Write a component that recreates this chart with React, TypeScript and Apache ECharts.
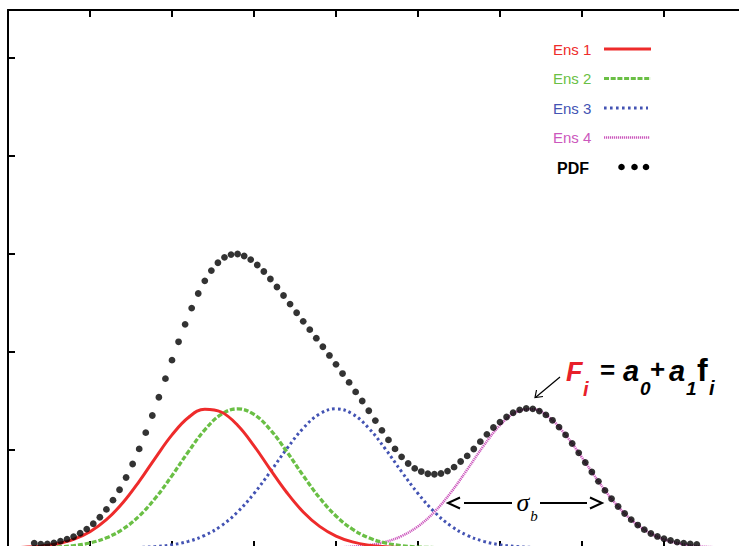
import React, { useEffect, useRef } from "react";
import * as echarts from "echarts";

// ---------- data ----------
const legendLabels = ["Ens 1", "Ens 2", "Ens 3", "Ens 4", "PDF"];

const ensX = [0, 0.2, 0.4, 0.6, 0.8, 1, 1.2, 1.4, 1.6, 1.8, 2, 2.2, 2.4, 2.6, 2.8, 3, 3.2, 3.4, 3.6, 3.8, 4, 4.2, 4.4, 4.6, 4.8, 5, 5.2, 5.4, 5.6, 5.8, 6, 6.2, 6.4, 6.6, 6.8, 7, 7.2, 7.4, 7.6, 7.8, 8, 8.2, 8.4, 8.6, 8.8, 9];

const ens1 = [0.003, 0.008, 0.019, 0.043, 0.088, 0.166, 0.289, 0.461, 0.68, 0.923, 1.154, 1.332, 1.416, 1.388, 1.253, 1.043, 0.8, 0.566, 0.368, 0.221, 0.122, 0.062, 0.029, 0.013, 0.005, 0.002,
  0, 0, 0, 0, 0, 0, 0, 0, 0, 0, 0, 0, 0, 0, 0, 0, 0, 0, 0, 0];

const ens2 = [0.001, 0.001, 0.004, 0.01, 0.024, 0.052, 0.104, 0.192, 0.327, 0.512, 0.739, 0.983, 1.206, 1.363, 1.42, 1.363, 1.206, 0.983, 0.739, 0.512, 0.327, 0.192, 0.104, 0.052, 0.024, 0.01, 0.004, 0.001,
  0, 0, 0, 0, 0, 0, 0, 0, 0, 0, 0, 0, 0, 0, 0, 0, 0, 0];

const ens3 = [0, 0, 0, 0, 0, 0,
  0.001, 0.0025, 0.006, 0.015, 0.033, 0.068, 0.129, 0.226, 0.368, 0.556, 0.779, 1.013, 1.222, 1.368, 1.42, 1.368, 1.222, 1.013, 0.779, 0.556, 0.368, 0.226, 0.129, 0.068, 0.033, 0.015, 0.006, 0.0025, 0.001,
  0, 0, 0, 0, 0, 0, 0, 0, 0, 0, 0];

const ens4 = [0, 0, 0, 0, 0, 0, 0, 0, 0, 0, 0, 0, 0, 0, 0, 0, 0, 0, 0,
  0.002, 0.005, 0.013, 0.029, 0.062, 0.122, 0.221, 0.368, 0.566, 0.8, 1.043, 1.253, 1.388, 1.416, 1.332, 1.154, 0.923, 0.68, 0.461, 0.289, 0.166, 0.088, 0.043, 0.019, 0.008, 0.003, 0.001];

const pdfX = [0.32, 0.4, 0.48, 0.56, 0.64, 0.72, 0.8, 0.88, 0.96, 1.04, 1.12, 1.2, 1.28, 1.36, 1.44, 1.52, 1.6, 1.68, 1.76, 1.84, 1.92, 2, 2.08, 2.16, 2.24, 2.32, 2.4, 2.48, 2.56, 2.64, 2.72, 2.8, 2.88, 2.96, 3.04, 3.12, 3.2, 3.28, 3.36, 3.44, 3.52, 3.6, 3.68, 3.76, 3.84, 3.92, 4, 4.08, 4.16, 4.24, 4.32, 4.4, 4.48, 4.56, 4.64, 4.72, 4.8, 4.88, 4.96, 5.04, 5.12, 5.2, 5.28, 5.36, 5.44, 5.52, 5.6, 5.68, 5.76, 5.84, 5.92, 6, 6.08, 6.16, 6.24, 6.32, 6.4, 6.48, 6.56, 6.64, 6.72, 6.8, 6.88, 6.96, 7.04, 7.12, 7.2, 7.28, 7.36, 7.44, 7.52, 7.6, 7.68, 7.76, 7.84, 7.92, 8, 8.08, 8.16, 8.24, 8.32, 8.4];

const pdfY = [0.05, 0.038, 0.042, 0.052, 0.07, 0.09, 0.115, 0.15, 0.193, 0.247, 0.314, 0.394, 0.488, 0.595, 0.719, 0.857, 1.011, 1.177, 1.352, 1.538, 1.728, 1.917, 2.104, 2.282, 2.448, 2.597, 2.726, 2.831, 2.911, 2.966, 2.994, 3.0, 2.98, 2.943, 2.888, 2.821, 2.745, 2.663, 2.577, 2.489, 2.401, 2.313, 2.228, 2.141, 2.054, 1.965, 1.874, 1.78, 1.69, 1.593, 1.5, 1.4, 1.3, 1.2, 1.103, 1.011, 0.93, 0.862, 0.812, 0.78, 0.758, 0.752, 0.76, 0.785, 0.825, 0.883, 0.94, 1.01, 1.085, 1.16, 1.23, 1.285, 1.337, 1.38, 1.41, 1.424, 1.42, 1.397, 1.358, 1.303, 1.234, 1.154, 1.066, 0.971, 0.873, 0.776, 0.68, 0.588, 0.502, 0.423, 0.352, 0.289, 0.234, 0.187, 0.148, 0.118, 0.095, 0.076, 0.06, 0.05, 0.042, 0.037];

// ---------- styles ----------
const RED = "#ee2b2b";
const GREEN = "#6abf45";
const BLUE = "#4353b3";
const PINK = "#cc58bd";
const SANS = "'Liberation Sans', Arial, Helvetica, sans-serif";
const SERIF = "'Liberation Serif', 'Times New Roman', serif";

const axisCommon: any = {
  type: "value",
  min: 0,
  axisLabel: { show: false },
  splitLine: { show: false },
  axisLine: { show: true, onZero: false, lineStyle: { color: "#000", width: 2 } },
  axisTick: { show: true, inside: true, length: 7, lineStyle: { color: "#000", width: 2 } },
};

const pair = (xs: number[], ys: number[]) => xs.map((x, i) => [x, ys[i]]);

const lineSeries = (name: string, ys: number[], lineStyle: any, z: number) => ({
  type: "line",
  name,
  data: pair(ensX, ys),
  smooth: 0.4,
  symbol: "none",
  showSymbol: false,
  silent: true,
  lineStyle: { cap: "butt", ...lineStyle },
  z,
});

const txt = (text: string, x: number, y: number, o: any) => ({
  type: "text",
  x,
  y,
  silent: true,
  z: 100,
  style: {
    text,
    fill: o.fill || "#000",
    fontSize: o.size,
    fontFamily: o.family || SANS,
    fontWeight: o.weight || "normal",
    fontStyle: o.style || "normal",
    align: o.align || "left",
    verticalAlign: "middle",
  },
});

const seg = (x1: number, y1: number, x2: number, y2: number, stroke: string, width: number, dash?: number[]) => ({
  type: "line",
  silent: true,
  z: 100,
  shape: { x1, y1, x2, y2 },
  style: { stroke, lineWidth: width, lineDash: dash || null, lineCap: "butt" },
});

const poly = (points: number[][], width: number) => ({
  type: "polyline",
  silent: true,
  z: 100,
  shape: { points },
  style: { stroke: "#000", lineWidth: width, fill: null },
});

const dot = (cx: number, cy: number) => ({
  type: "circle",
  silent: true,
  z: 100,
  shape: { cx, cy, r: 3.3 },
  style: { fill: "#000" },
});

const option: any = {
  animation: false,
  backgroundColor: "#fff",
  grid: { left: 8, top: 10, right: -7, bottom: -2, containLabel: false, outerBoundsMode: "none" },
  xAxis: [
    { ...axisCommon, max: 9, interval: 1, position: "bottom" },
    { ...axisCommon, max: 9, interval: 1, position: "top" },
  ],
  yAxis: [
    { ...axisCommon, max: 5.49, interval: 1, position: "left" },
    { ...axisCommon, max: 5.49, interval: 1, position: "right" },
  ],
  series: [
    lineSeries(legendLabels[3], ens4, { color: PINK, width: 2.6, type: [1.2, 0.8] }, 2),
    lineSeries(legendLabels[2], ens3, { color: BLUE, width: 3, type: [2.6, 3] }, 3),
    lineSeries(legendLabels[1], ens2, { color: GREEN, width: 3.3, type: [5, 2] }, 4),
    lineSeries(legendLabels[0], ens1, { color: RED, width: 3, type: "solid" }, 5),
    {
      type: "scatter",
      name: legendLabels[4],
      data: pair(pdfX, pdfY),
      symbol: "circle",
      symbolSize: 6.8,
      silent: true,
      itemStyle: { color: "#000" },
      z: 6,
    },
  ],
  graphic: [
    // legend
    txt(legendLabels[0], 553, 49, { size: 15, fill: RED }),
    seg(604, 49, 651, 49, RED, 3),
    txt(legendLabels[1], 553, 78.5, { size: 15, fill: GREEN }),
    seg(604, 78.5, 651, 78.5, GREEN, 3.2, [5, 1.7]),
    txt(legendLabels[2], 553, 108, { size: 15, fill: BLUE }),
    seg(604, 108, 648, 108, BLUE, 2.8, [2.6, 3.4]),
    txt(legendLabels[3], 553, 137.5, { size: 15, fill: PINK }),
    seg(604, 137.5, 650, 137.5, PINK, 2.6, [1.2, 0.8]),
    txt(legendLabels[4], 557, 168, { size: 16, fill: "#000", weight: "bold" }),
    dot(621.5, 167),
    dot(634.5, 167),
    dot(646, 167),
    // formula
    txt("F", 566, 372, { size: 27, fill: "#e8202a", weight: "bold", style: "italic" }),
    txt("i", 583, 389, { size: 20, fill: "#e8202a", weight: "bold", style: "italic" }),
    txt("=", 600, 370, { size: 26, weight: "bold" }),
    txt("a", 623, 371, { size: 29, weight: "bold", style: "italic" }),
    txt("0", 640, 388, { size: 19, weight: "bold", style: "italic" }),
    txt("+", 650, 369, { size: 26, weight: "bold" }),
    txt("a", 669, 371, { size: 29, weight: "bold", style: "italic" }),
    txt("1", 686, 388, { size: 19, weight: "bold", style: "italic" }),
    txt("f", 697, 370, { size: 32, weight: "bold" }),
    txt("i", 709, 388, { size: 20, weight: "bold", style: "italic" }),
    // pointer arrow
    seg(560, 377, 536, 397, "#000", 1.2),
    poly([[536.5, 390], [535, 397.5], [543, 396.5]], 1.2),
    // sigma_b width marker
    poly([[460, 497.5], [448, 503], [460, 508.5]], 2),
    seg(464, 503, 512, 503, "#000", 2),
    txt("σ", 523, 502, { size: 26, family: SERIF, style: "italic", align: "center" }),
    txt("b", 534, 516, { size: 15, family: SERIF, style: "italic", align: "center" }),
    seg(540, 503, 587, 503, "#000", 2),
    poly([[590, 497.5], [602, 503], [590, 508.5]], 2),
  ],
};

export default function App() {
  const ref = useRef<HTMLDivElement>(null);
  useEffect(() => {
    if (!ref.current) return;
    const chart = echarts.init(ref.current, null, { renderer: "svg" });
    chart.setOption(option);
    return () => chart.dispose();
  }, []);
  return (
    <div
      ref={ref}
      style={{ position: "absolute", left: 0, top: 0, width: 739, height: 546, background: "#fff" }}
    />
  );
}
